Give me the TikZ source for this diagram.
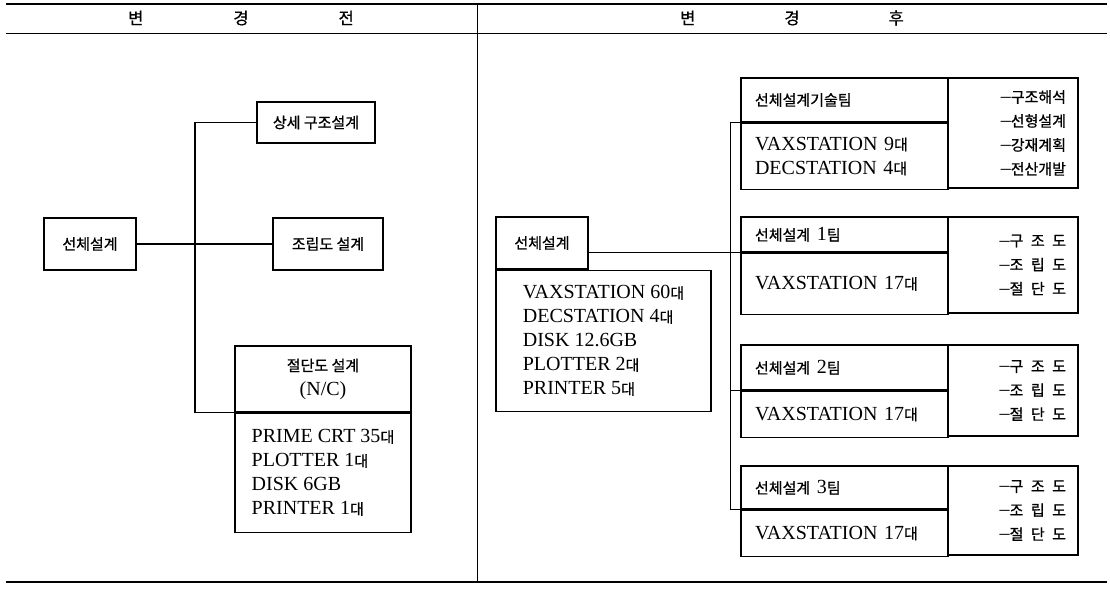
\documentclass[tikz,border=0pt]{standalone}
\usepackage{fontspec}
\setmainfont{Liberation Serif}
\newfontfamily\krfont[FakeBold=0.8]{Noto Sans CJK KR}
\usetikzlibrary{positioning}
\newcommand\latn{\fontsize{20}{24}\selectfont}
\newcommand\kor[1]{{\krfont\fontsize{15}{24}\selectfont #1}}

\begin{document}
\begin{tikzpicture}[
  x=1pt, y=-1pt,
  box/.style={draw, line width=1.1pt, inner sep=0pt, font=\latn},
  lcell/.style={box, minimum width=207pt, text width=179pt, inner xsep=14pt, align=left},
  rcell/.style={box, minimum width=130pt, text width=106pt, inner xsep=12pt, align=right},
  link/.style={line width=1.1pt}
]
\useasboundingbox (0,0) rectangle (1110,592);
% table frame
\draw[line width=2pt] (6,4) -- (1107,4);
\draw[line width=0.9pt] (6,33) -- (1107,33);
\draw[line width=2pt] (6,582) -- (1107,582);
\draw[line width=1pt] (477,4) -- (477,582);
\node (hbefore) at (241,18) {\kor{\fontsize{16.5}{20}\selectfont 변\hspace{90pt}경\hspace{90pt}전}};
\node (hafter) at (792,18) {\kor{\fontsize{16.5}{20}\selectfont 변\hspace{89pt}경\hspace{89pt}후}};

% before
\node[box, minimum width=92pt, minimum height=52pt] (lsel) at (90,244) {\kor{선체설계}};
\node[box, minimum width=118pt, minimum height=41pt] (ldet) at (316,122.5) {\kor{상세 구조설계}};
\node[box, minimum width=110pt, minimum height=52pt] (lasm) at (328,244) {\kor{조립도 설계}};
\node[box, minimum width=176pt, minimum height=66pt, align=center] (lcut) at (323,379) {\kor{절단도 설계}\\(N/C)};
\node[box, minimum width=176pt, minimum height=119pt, align=left, below=0pt of lcut] (lcutlist)
  {PRIME CRT 35\kor{대}\\PLOTTER 1\kor{대}\\DISK 6GB\\PRINTER 1\kor{대}};
\coordinate (ltrunk) at (195,122.5);
\draw[link] (lsel.east) -- (lasm.west);
\draw[link] (ldet.west) -- (ltrunk) |- (lcut.south west);

% after
\node[box, minimum width=92pt, minimum height=52pt] (rsel) at (542,243) {\kor{선체설계}};
\node[box, minimum width=215pt, minimum height=141pt, align=left, anchor=north west] (rlist) at (rsel.south west)
  {VAXSTATION 60\kor{대}\\DECSTATION 4\kor{대}\\DISK 12.6GB\\PLOTTER 2\kor{대}\\PRINTER 5\kor{대}};

\node[lcell, minimum height=44pt] (t0a) at (844.5,100) {\kor{선체설계기술팀}};
\node[lcell, minimum height=66pt, below=0pt of t0a] (t0b) {VAXSTATION 9\kor{대}\\DECSTATION 4\kor{대}};
\node[rcell, minimum height=110pt] (t0r) at (1013,133)
  {--\kor{구조해석}\\--\kor{선형설계}\\--\kor{강재계획}\\--\kor{전산개발}};

\node[lcell, minimum height=35pt] (t1a) at (844.5,234.5) {\kor{선체설계 }1\kor{팀}};
\node[lcell, minimum height=61pt, below=0pt of t1a] (t1b) {VAXSTATION 17\kor{대}};
\node[rcell, minimum height=96pt] (t1r) at (1013,265)
  {--\kor{구\enspace 조\enspace 도}\\--\kor{조\enspace 립\enspace 도}\\--\kor{절\enspace 단\enspace 도}};

\node[lcell, minimum height=45pt] (t2a) at (844.5,367.5) {\kor{선체설계 }2\kor{팀}};
\node[lcell, minimum height=46pt, below=0pt of t2a] (t2b) {VAXSTATION 17\kor{대}};
\node[rcell, minimum height=91pt] (t2r) at (1013,390.5)
  {--\kor{구\enspace 조\enspace 도}\\--\kor{조\enspace 립\enspace 도}\\--\kor{절\enspace 단\enspace 도}};

\node[lcell, minimum height=43pt] (t3a) at (844.5,487.5) {\kor{선체설계 }3\kor{팀}};
\node[lcell, minimum height=46pt, below=0pt of t3a] (t3b) {VAXSTATION 17\kor{대}};
\node[rcell, minimum height=89pt] (t3r) at (1013,510.5)
  {--\kor{구\enspace 조\enspace 도}\\--\kor{조\enspace 립\enspace 도}\\--\kor{절\enspace 단\enspace 도}};

\draw[link] (rsel.east |- t1a.south west) -- (t1a.south west);
\draw[link] (t0a.south west) -- ++(-10,0) |- (t3a.south west);
\draw[link] (t2a.south west) -- ++(-10,0);
\end{tikzpicture}
\end{document}
